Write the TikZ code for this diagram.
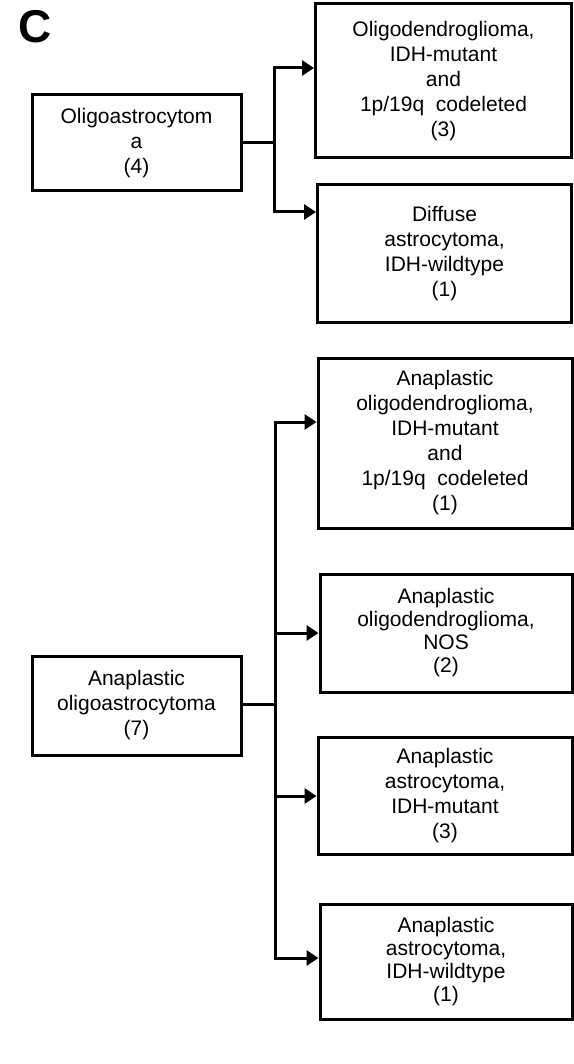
\documentclass[tikz,border=0pt]{standalone}
\usepackage{fontspec}
\setmainfont{Liberation Sans}
\usetikzlibrary{arrows.meta}
\begin{document}
\begin{tikzpicture}[x=1pt,y=-1pt,
  box/.style={draw,line width=3pt,rectangle,align=center,inner sep=0pt,
    font=\fontsize{21}{25}\selectfont},
  tbox/.style={box,font=\fontsize{21}{23}\selectfont},
  conn/.style={line width=3pt},
  arr/.style={conn,-{Triangle[length=12pt,width=15pt]}}]
\useasboundingbox (0,0) rectangle (573,1064);
\node[font=\fontsize{46}{46}\selectfont\bfseries] (C) at (35,27) {C};
% top group
\node[box,minimum width=209pt,minimum height=96pt] (A) at (136.5,143) {Oligoastrocytom\\a\\(4)};
\node[box,minimum width=256pt,minimum height=154pt] (R1) at (443.5,81) {Oligodendroglioma,\\IDH-mutant\\and\\1p/19q\ \ codeleted\\(3)};
\node[box,minimum width=254pt,minimum height=137pt] (R2) at (444.5,253.5) {Diffuse\\astrocytoma,\\IDH-wildtype\\(1)};
\coordinate (j1) at (274,143);
\coordinate (t1) at (273,68);
\coordinate (t2) at (273,212);
\draw[conn] (A.east) -- (j1);
\draw[conn] (274,68) -- (274,212);
\draw[arr] (t1) -- (t1 -| R1.west);
\draw[arr] (t2) -- (t2 -| R2.west);
% bottom group
\node[box,minimum width=209pt,minimum height=99pt] (B) at (136.5,705.5) {Anaplastic\\oligoastrocytoma\\(7)};
\node[box,minimum width=254pt,minimum height=170pt] (R3) at (445,443) {Anaplastic\\oligodendroglioma,\\IDH-mutant\\and\\1p/19q\ \ codeleted\\(1)};
\node[tbox,minimum width=252pt,minimum height=118pt] (R4) at (446,633) {Anaplastic\\oligodendroglioma,\\NOS\\(2)};
\node[box,minimum width=254pt,minimum height=117pt] (R5) at (445,795.5) {Anaplastic\\astrocytoma,\\IDH-mutant\\(3)};
\node[tbox,minimum width=252pt,minimum height=115pt] (R6) at (446,961.5) {Anaplastic\\astrocytoma,\\IDH-wildtype\\(1)};
\coordinate (j2) at (275,704);
\coordinate (s3) at (274,422);
\coordinate (s4) at (274,633);
\coordinate (s5) at (274,796);
\coordinate (s6) at (274,958);
\draw[conn] (B.east |- j2) -- (j2);
\draw[conn] (275,422) -- (275,958);
\draw[arr] (s3) -- (s3 -| R3.west);
\draw[arr] (s4) -- (s4 -| R4.west);
\draw[arr] (s5) -- (s5 -| R5.west);
\draw[arr] (s6) -- (s6 -| R6.west);
\end{tikzpicture}
\end{document}
